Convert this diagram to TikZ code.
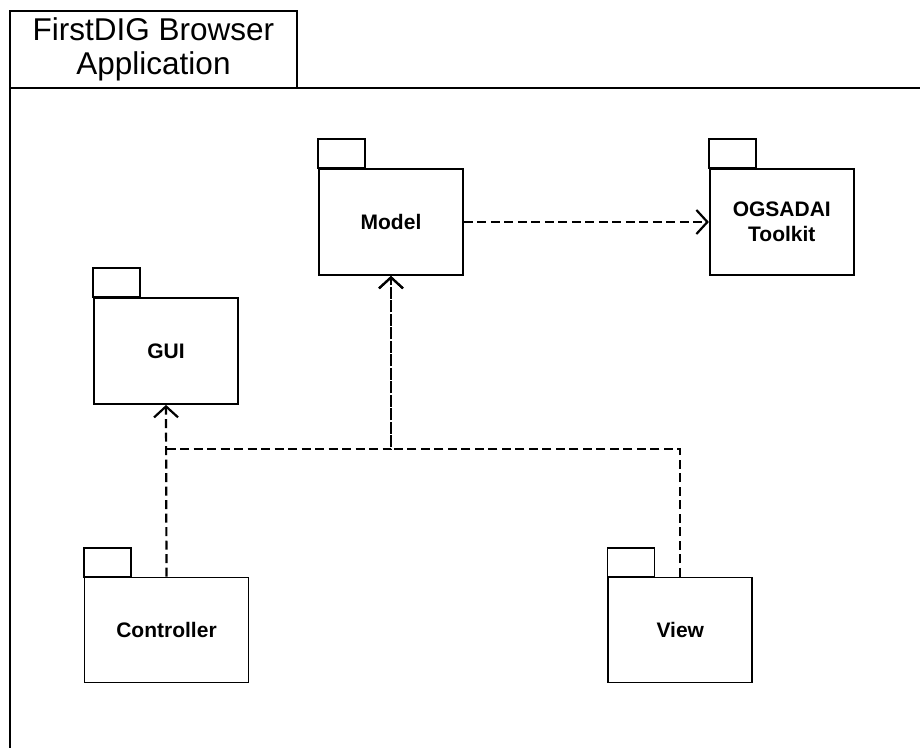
\documentclass[tikz,border=0pt]{standalone}
\usepackage{fontspec}
\setmainfont{Liberation Sans}
\usepackage{tikz}
\usetikzlibrary{positioning,arrows.meta}

\begin{document}
\begin{tikzpicture}[
  x=1pt, y=-1pt,
  node distance=1.0cm and 1.0cm,
  pkg/.style={draw, line width=1.8pt, minimum width=144pt, minimum height=106pt,
    inner sep=0pt, align=center, font=\bfseries\fontsize{21}{25}\selectfont},
  dep/.style={-{Straight Barb[length=11pt,width=24pt]}, line width=2.2pt, dash pattern=on 9pt off 4.5pt}
]
\clip (0,0) rectangle (920,747);

% Outer package frame
\draw[line width=1.8pt] (10,11) rectangle (297,88);
\draw[line width=2pt] (10,770) -- (10,88) -- (940,88);
\node[align=center, font=\fontsize{31.5}{34}\selectfont] (title) at (153.5,49) {FirstDIG Browser\\Application};

% Packages
\node[pkg] (model) at (391,222) {Model};
\node[pkg, right=245pt of model] (ogsa) {OGSADAI\\Toolkit};
\node[pkg] (gui) at (166,351) {GUI};
\node[pkg, minimum width=164pt, minimum height=105pt] (ctrl) at (166.5,630) {Controller};
\node[pkg, minimum height=105pt, right=358pt of ctrl] (view) {View};

% Tabs
\foreach \p in {model,ogsa,gui,ctrl,view}
  \draw[line width=1.8pt] (\p.north west) rectangle ++(47,-29);

% Dependencies
\coordinate (junc) at (model.south |- 0,449);
\draw[dep] (model.east) -- (ogsa.west);
\draw[dep] (ctrl.north) -- (gui.south);
\draw[dep] (ctrl.north |- junc) -- (junc) -- (model.south);
\draw[dep] (view.north) |- (junc) -- (model.south);

\end{tikzpicture}
\end{document}
